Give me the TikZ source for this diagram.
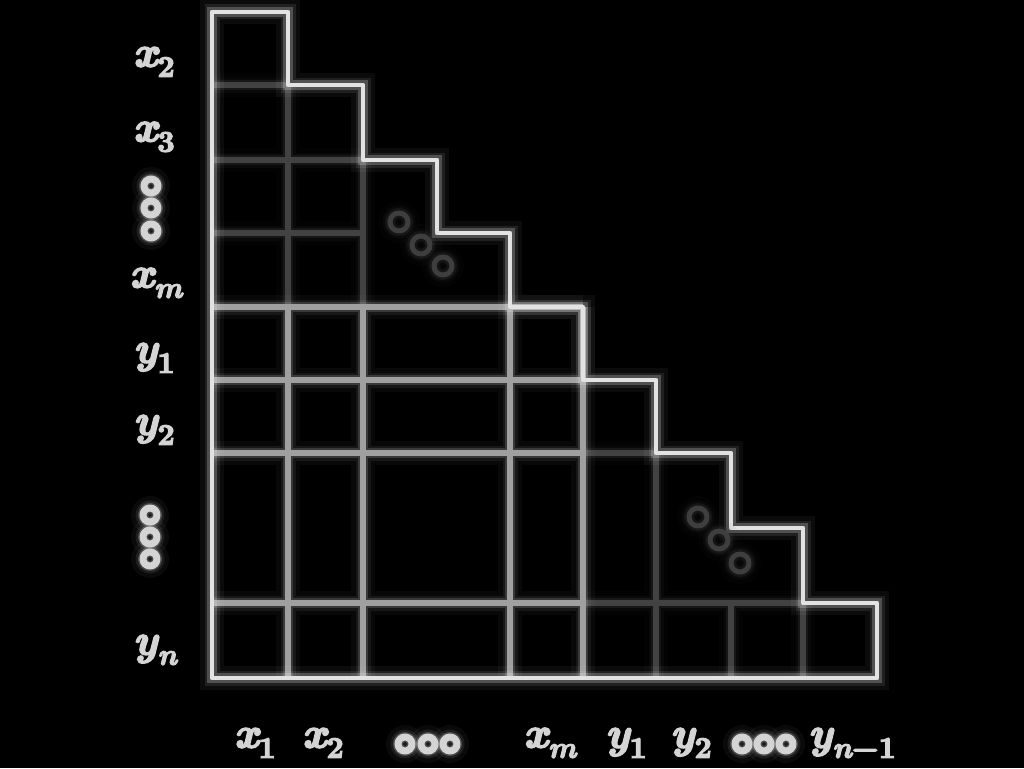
\documentclass[tikz,border=0pt]{standalone}
\usepackage{fontspec}
\usetikzlibrary{calc}
\newfontfamily\lblit[FakeBold=4]{lmroman10-bolditalic.otf}
\newfontfamily\lblrm[FakeBold=4]{lmroman10-bold.otf}
\newcommand\lsub[1]{\raisebox{-0.24em}{\fontsize{30}{30}\selectfont #1}}
\definecolor{outl}{RGB}{226,226,226}
\definecolor{midg}{RGB}{160,160,160}
\definecolor{dimg}{RGB}{66,66,66}
\definecolor{lblc}{RGB}{212,212,212}
\definecolor{dotdim}{RGB}{62,62,62}
\tikzset{
  glow/.style={line cap=round, line join=round,
    preaction={draw=#1, line width=24pt, opacity=0.05},
    preaction={draw=#1, line width=15pt, opacity=0.10},
    preaction={draw=#1, line width=10pt, opacity=0.25},
    draw=#1, line width=4.5pt},
  gridline/.style={glow=#1, line width=6pt, line cap=butt},
  ddot/.style={circle, minimum size=18pt, inner sep=0pt, glow=dotdim, line width=5pt},
  ldot/.style={circle, minimum size=14pt, inner sep=0pt, glow=lblc, line width=7pt},
  lbltxt/.style={text=lblc, inner sep=0pt, font=\fontsize{43}{45}\selectfont}
}
\begin{document}
\begin{tikzpicture}[x=1pt,y=-1pt]
\fill[black] (0,0) rectangle (1024,768);
\useasboundingbox (0,0) rectangle (1024,768);

% dim interior grid
\draw[gridline=dimg] (212,85) -- (288,85) (212,160) -- (363,160) (212,233) -- (363,233)
  (288,85) -- (288,307) (363,160) -- (363,307);
\draw[gridline=dimg] (583,453) -- (656,453) (583,603) -- (803,603)
  (656,453) -- (656,678) (731,603) -- (731,678) (803,603) -- (803,678);

% brighter lower-left grid
\draw[gridline=midg] (212,307) -- (583,307) (212,380) -- (583,380) (212,453) -- (583,453)
  (212,603) -- (583,603) (288,307) -- (288,678) (363,307) -- (363,678)
  (510,307) -- (510,678) (583,307) -- (583,678);

% staircase outline
\draw[glow=outl] (212,12) -| (288,85) -| (363,160) -| (437,233) -| (510,307)
  -| (583,380) -| (656,453) -| (731,528) -| (803,603) -| (877,678) -- (212,678) -- cycle;

% diagonal dots
\node[ddot] (ua1) at (399,222) {};
\node[ddot] (ua2) at (421,245) {};
\node[ddot] (ua3) at (443,266) {};
\node[ddot] (la1) at (698,517) {};
\node[ddot] (la2) at (719,540) {};
\node[ddot] (la3) at (740,563) {};

% label dots
\node[ldot] (vu1) at (151,186) {};
\node[ldot] (vu2) at (151,208) {};
\node[ldot] (vu3) at (151,231) {};
\node[ldot] (vl1) at (150,515) {};
\node[ldot] (vl2) at (150,537) {};
\node[ldot] (vl3) at (150,559) {};
\node[ldot] (hu1) at (405,744) {};
\node[ldot] (hu2) at (428,744) {};
\node[ldot] (hu3) at (450,744) {};
\node[ldot] (hl1) at (742,744) {};
\node[ldot] (hl2) at (764,744) {};
\node[ldot] (hl3) at (786,744) {};

% row labels
\node[lbltxt] (rx2) at (154,62)  {\lblit x\lsub{\lblrm 2}};
\node[lbltxt] (rx3) at (154,137) {\lblit x\lsub{\lblrm 3}};
\node[lbltxt] (rxm) at (156,283) {\lblit x\lsub{\lblit m}};
\node[lbltxt] (ry1) at (154,358) {\lblit y\lsub{\lblrm 1}};
\node[lbltxt] (ry2) at (154,430) {\lblit y\lsub{\lblrm 2}};
\node[lbltxt] (ryn) at (155,650) {\lblit y\lsub{\lblit n}};

% column labels
\node[lbltxt] (cx1) at (255,743) {\lblit x\lsub{\lblrm 1}};
\node[lbltxt] (cx2) at (323,743) {\lblit x\lsub{\lblrm 2}};
\node[lbltxt] (cxm) at (550,743) {\lblit x\lsub{\lblit m}};
\node[lbltxt] (cy1) at (626,743) {\lblit y\lsub{\lblrm 1}};
\node[lbltxt] (cy2) at (691,743) {\lblit y\lsub{\lblrm 2}};
\node[lbltxt] (cyn) at (852,743) {\lblit y\lsub{\lblit n\lblrm −1}};
\end{tikzpicture}
\end{document}
